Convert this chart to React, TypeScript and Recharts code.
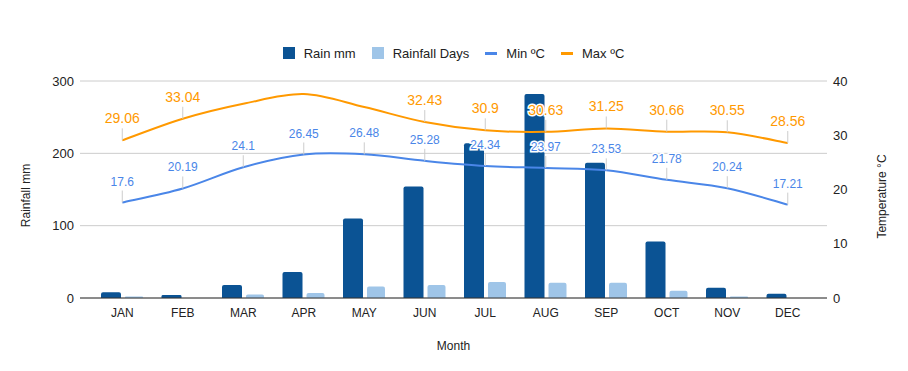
import React from 'react'
import {
  ComposedChart, Bar, Line, XAxis, YAxis, CartesianGrid,
  Legend, LabelList, Label
} from 'recharts'

const months = ['JAN', 'FEB', 'MAR', 'APR', 'MAY', 'JUN', 'JUL', 'AUG', 'SEP', 'OCT', 'NOV', 'DEC']
const rainMm = [8, 4, 18, 36, 110, 154, 214, 282, 187, 78, 14, 6]
const rainDays = [2, 0, 5, 7, 16, 18, 22, 21, 21, 10, 2, 0]
const minTemp = [17.6, 20.19, 24.1, 26.45, 26.48, 25.28, 24.34, 23.97, 23.53, 21.78, 20.24, 17.21]
const maxTemp = [29.06, 33.04, 35.8, 37.6, 35.2, 32.43, 30.9, 30.63, 31.25, 30.66, 30.55, 28.56]
// labels the original leaves out for the max series
const hiddenMaxLabels = ['MAR', 'APR', 'MAY']
const legendOrder = ['Rain mm', 'Rainfall Days', 'Min ºC', 'Max ºC']

const FONT = 'Arial, "Liberation Sans", sans-serif'
const RAIN = '#0b5394'
const DAYS = '#9fc5e8'
const MIN = '#4a86e8'
const MAX = '#ff9900'

const rows = months.map((m, i) => ({
  month: m,
  rain: rainMm[i],
  days: rainDays[i],
  min: minTemp[i],
  max: maxTemp[i],
}))

// catmull-rom style smoothing, close to google's "function" curve
const smoothCurve = (context: any) => {
  let pts: number[][] = []
  return {
    areaStart() {},
    areaEnd() {},
    lineStart() { pts = [] },
    point(x: number, y: number) { pts.push([+x, +y]) },
    lineEnd() {
      if (!pts.length) return
      context.moveTo(pts[0][0], pts[0][1])
      const t = 1 / 6
      for (let i = 0; i < pts.length - 1; i++) {
        const p0 = pts[Math.max(i - 1, 0)]
        const p1 = pts[i]
        const p2 = pts[i + 1]
        const p3 = pts[Math.min(i + 2, pts.length - 1)]
        context.bezierCurveTo(
          p1[0] + (p2[0] - p0[0]) * t, p1[1] + (p2[1] - p0[1]) * t,
          p2[0] - (p3[0] - p1[0]) * t, p2[1] - (p3[1] - p1[1]) * t,
          p2[0], p2[1],
        )
      }
    },
  }
}

const makeAnnotation = (color: string, size: number, hide: string[] = []) => (props: any) => {
  const { x, y, value, index } = props
  if (hide.includes(months[index])) return null
  return (
    <g>
      <line x1={x} x2={x} y1={y} y2={y - 12} stroke="#ccc" strokeWidth={1} />
      <text
        x={x} y={y - 17} textAnchor="middle"
        fontSize={size} fontFamily={FONT} fill={color}
        stroke="#fff" strokeWidth={3} paintOrder="stroke"
      >
        {value}
      </text>
    </g>
  )
}

const LegendRow = ({ payload }: any) => {
  const items = (payload || []).slice().sort(
    (a: any, b: any) => legendOrder.indexOf(a.value) - legendOrder.indexOf(b.value)
  )
  return (
    <div style={{
      display: 'flex', justifyContent: 'center', alignItems: 'center',
      height: 20, fontFamily: FONT, fontSize: 13, color: '#222',
    }}>
      {items.map((p: any, i: number) => (
        <div key={p.value} style={{ display: 'flex', alignItems: 'center', marginLeft: i ? 16 : 0 }}>
          {p.type === 'line'
            ? <span style={{ display: 'inline-block', width: 12, height: 3, background: p.color, marginRight: 9 }} />
            : <span style={{ display: 'inline-block', width: 12, height: 12, background: p.color, marginRight: 9 }} />}
          <span>{p.value}</span>
        </div>
      ))}
    </div>
  )
}

export default function App() {
  return (
    <div style={{ position: 'absolute', left: 0, top: 0, width: 908, height: 371, background: 'white' }}>
      <ComposedChart
        width={908} height={371} data={rows}
        margin={{ top: 61, right: 0, left: 0, bottom: 0 }}
      >
        <CartesianGrid yAxisId="left" vertical={false} stroke="#cccccc" />
        <XAxis
          dataKey="month" height={73} padding={{ left: 12, right: 9 }}
          tickSize={0} tickMargin={10} tickLine={false}
          axisLine={{ stroke: '#333', strokeWidth: 1 }}
          tick={{ fontSize: 12, fill: '#222', fontFamily: FONT }}
        >
          <Label value="Month" position="insideBottom" offset={21} fontSize={12} fill="#222" fontFamily={FONT} />
        </XAxis>
        <YAxis
          yAxisId="left" orientation="left" width={80}
          domain={[0, 300]} ticks={[0, 100, 200, 300]}
          tickSize={0} tickMargin={6} tickLine={false} axisLine={false}
          tick={{ fontSize: 13, fill: '#222', fontFamily: FONT }}
        >
          <Label value="Rainfall mm" angle={-90} position="center" dx={-14} dy={6} fontSize={12} fill="#222" fontFamily={FONT} />
        </YAxis>
        <YAxis
          yAxisId="right" orientation="right" width={81}
          domain={[0, 40]} ticks={[0, 10, 20, 30, 40]}
          tickSize={0} tickMargin={6} tickLine={false} axisLine={false}
          tick={{ fontSize: 13, fill: '#222', fontFamily: FONT }}
        >
          <Label value="Temperature °C" angle={-90} position="center" dx={14} dy={7} fontSize={12} fill="#222" fontFamily={FONT} />
        </YAxis>
        <Legend
          verticalAlign="top" align="center" content={<LegendRow />}
          wrapperStyle={{ top: 43, left: 80, width: 747 }}
        />
        <Bar yAxisId="left" dataKey="rain" name="Rain mm" fill={RAIN} barSize={20}
          radius={[2, 2, 0, 0]} legendType="rect" isAnimationActive={false} />
        <Bar yAxisId="left" dataKey="days" name="Rainfall Days" fill={DAYS} barSize={18}
          radius={[2, 2, 0, 0]} legendType="rect" isAnimationActive={false} />
        <Line yAxisId="right" dataKey="min" name="Min ºC" type={smoothCurve as any}
          stroke={MIN} strokeWidth={2} dot={false} legendType="line" isAnimationActive={false}>
          <LabelList dataKey="min" content={makeAnnotation(MIN, 12)} />
        </Line>
        <Line yAxisId="right" dataKey="max" name="Max ºC" type={smoothCurve as any}
          stroke={MAX} strokeWidth={2} dot={false} legendType="line" isAnimationActive={false}>
          <LabelList dataKey="max" content={makeAnnotation(MAX, 14, hiddenMaxLabels)} />
        </Line>
      </ComposedChart>
    </div>
  )
}
